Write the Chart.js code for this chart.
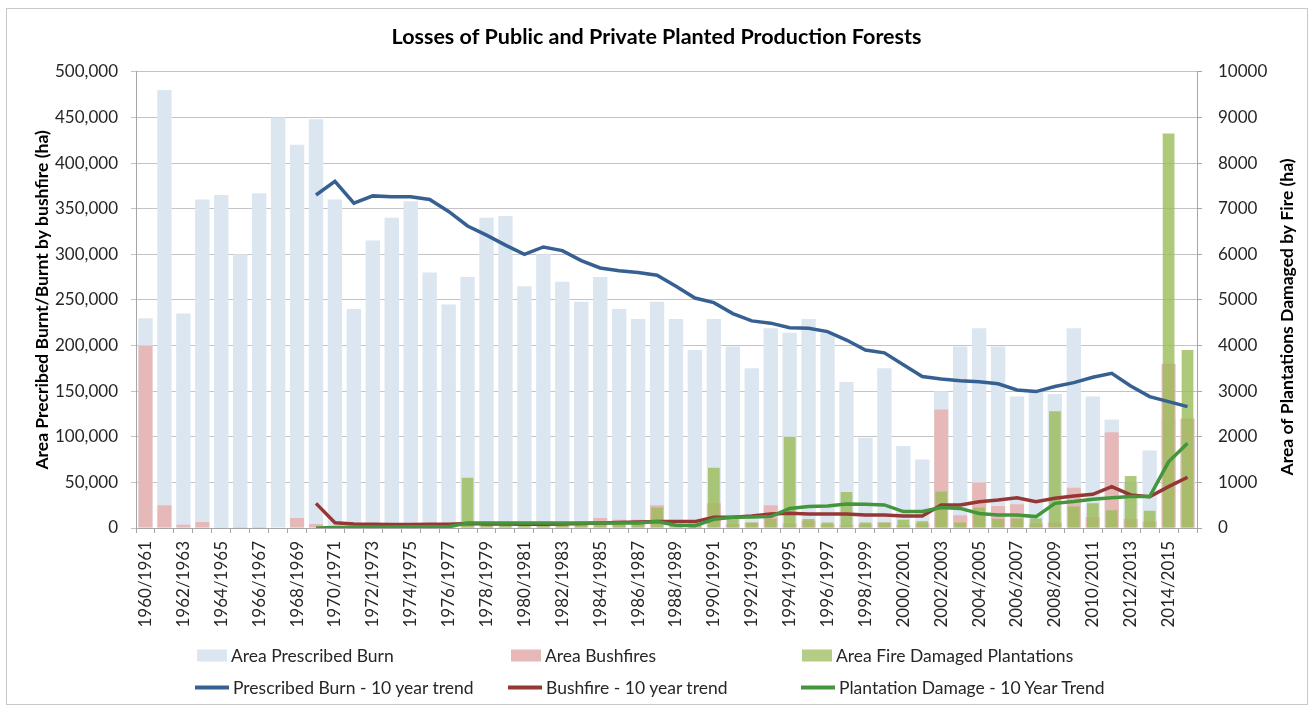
<!DOCTYPE html>
<html>
<head>
<meta charset="utf-8">
<title>Losses of Public and Private Planted Production Forests</title>
<script src="https://cdn.jsdelivr.net/npm/chart.js@4.4.1/dist/chart.umd.min.js"></script>
<style>
  body { margin: 0; background: #fff; font-family: Lato, "Open Sans", sans-serif; }
  #wrap { position: relative; width: 1313px; height: 708px; }
  #frame { position: absolute; left: 6px; top: 8px; right: 5px; bottom: 3px; border: 1px solid #c8c8c8; pointer-events: none; }
  .leg { position: absolute; display: flex; align-items: center; font-size: 17.5px; color: #262626; white-space: nowrap; transform: translateY(-50%); }
  .sw { display: inline-block; margin-right: 4px; }
  .box { width: 30px; height: 12px; }
  .ln { width: 34px; height: 4px; }
</style>
</head>
<body>
<div id="wrap">
  <canvas id="forestChart"></canvas>
  <div id="frame"></div>
  <div class="leg" style="left:197px;top:655px"><span class="sw box" style="background:#dce6f1"></span>Area Prescribed Burn</div>
  <div class="leg" style="left:511px;top:655px"><span class="sw box" style="background:#e6b9b8"></span>Area Bushfires</div>
  <div class="leg" style="left:802px;top:655px"><span class="sw box" style="background:rgba(155,187,89,0.75)"></span>Area Fire Damaged Plantations</div>
  <div class="leg" style="left:195px;top:687px"><span class="sw ln" style="background:#376092"></span>Prescribed Burn - 10 year trend</div>
  <div class="leg" style="left:508px;top:687px"><span class="sw ln" style="background:#953735"></span>Bushfire - 10 year trend</div>
  <div class="leg" style="left:801px;top:687px"><span class="sw ln" style="background:#43963b"></span>Plantation Damage - 10 Year Trend</div>
</div>
<script>
const seasons = [
  "1960/1961", "1961/1962", "1962/1963", "1963/1964", "1964/1965", "1965/1966", "1966/1967", "1967/1968",
  "1968/1969", "1969/1970", "1970/1971", "1971/1972", "1972/1973", "1973/1974", "1974/1975", "1975/1976",
  "1976/1977", "1977/1978", "1978/1979", "1979/1980", "1980/1981", "1981/1982", "1982/1983", "1983/1984",
  "1984/1985", "1985/1986", "1986/1987", "1987/1988", "1988/1989", "1989/1990", "1990/1991", "1991/1992",
  "1992/1993", "1993/1994", "1994/1995", "1995/1996", "1996/1997", "1997/1998", "1998/1999", "1999/2000",
  "2000/2001", "2001/2002", "2002/2003", "2003/2004", "2004/2005", "2005/2006", "2006/2007", "2007/2008",
  "2008/2009", "2009/2010", "2010/2011", "2011/2012", "2012/2013", "2013/2014", "2014/2015", "2015/2016"
];

// area in ha, left axis
const prescribedBurn = [
  230000, 480000, 235000, 360000, 365000, 300000, 367000, 450000, 420000, 448000,
  360000, 240000, 315000, 340000, 358000, 280000, 245000, 275000, 340000, 342000,
  265000, 300000, 270000, 248000, 275000, 240000, 229000, 248000, 229000, 195000,
  229000, 199000, 175000, 219000, 214000, 229000, 214000, 160000, 99000, 175000,
  90000, 75000, 150000, 199000, 219000, 199000, 144000, 150000, 147000, 219000,
  144000, 119000, 50000, 85000, 120000, 100000
];

const bushfires = [
  200000, 25000, 3500, 6500, 800, 1000, 1000, 500, 11000, 4500,
  2000, 1500, 1500, 1200, 1500, 2000, 1500, 3000, 2000, 1500,
  1500, 2000, 2500, 3000, 11000, 9000, 9000, 25000, 4000, 3000,
  27000, 4000, 6000, 25000, 5000, 8000, 4000, 3000, 4000, 6000,
  3000, 5000, 130000, 14000, 50000, 24000, 26000, 5000, 6000, 44000,
  12000, 105000, 10000, 7000, 180000, 120000
];

// area in ha, right axis
const plantationDamage = [
  0, 0, 0, 0, 0, 0, 0, 0, 0, 0,
  30, 30, 40, 40, 50, 40, 50, 1100, 100, 80,
  80, 100, 80, 80, 100, 80, 100, 450, 80, 100,
  1320, 200, 120, 200, 2000, 200, 120, 790, 120, 120,
  180, 150, 800, 120, 450, 200, 210, 210, 2560, 470,
  540, 390, 1140, 380, 8650, 3900
];

const prescribedTrend = [
  null, null, null, null, null, null, null, null, null, 365000,
  380000, 356000, 364000, 363000, 363000, 360000, 347000, 331000, 321000, 310000,
  300000, 308000, 304000, 293000, 285000, 282000, 280000, 277000, 265000, 252000,
  247000, 235000, 227000, 224500, 219600, 219000, 215300, 206000, 195000, 192000,
  179000, 166000, 163400, 161500, 160400, 158000, 151300, 149500, 155000, 159300,
  165200, 169600, 155700, 144000, 138500, 133000
];

const bushfireTrend = [
  null, null, null, null, null, null, null, null, null, 27000,
  5800, 4500, 4000, 3800, 3800, 4000, 4200, 4800, 4500, 4300,
  4000, 4000, 4300, 4800, 5500, 6000, 6500, 7000, 7200, 7000,
  11700, 11700, 13200, 15400, 16100, 15400, 15400, 15400, 14300, 14300,
  13200, 13200, 25200, 25200, 28800, 30700, 33200, 28800, 32500, 35100,
  36900, 45300, 36200, 34300, 45300, 55600
];

const plantationTrend = [
  null, null, null, null, null, null, null, null, null, 0,
  10, 15, 20, 20, 25, 25, 30, 110, 110, 110,
  110, 110, 110, 110, 110, 110, 110, 140, 60, 50,
  190, 235, 240, 250, 430, 470, 480, 525, 520, 505,
  360, 360, 450, 430, 320, 285, 285, 250, 540, 580,
  630, 665, 690, 690, 1450, 1860
];

const leftTicks = { min: 0, max: 500000, step: 50000 };
const rightTicks = { min: 0, max: 10000, step: 1000 };

const fontFamily = "Lato, 'Open Sans', sans-serif";
const axisLine = '#a6a6a6';

// rotated axis titles, both reading bottom to top
const axisTitles = {
  id: 'axisTitles',
  afterDraw(chart) {
    const ctx = chart.ctx;
    const mid = (chart.chartArea.top + chart.chartArea.bottom) / 2;
    const draw = (text, x, y) => {
      ctx.save();
      ctx.font = "bold 17.5px " + fontFamily;
      ctx.fillStyle = '#000';
      ctx.textAlign = 'center';
      ctx.textBaseline = 'middle';
      ctx.translate(x, y);
      ctx.rotate(-Math.PI / 2);
      ctx.fillText(text, 0, 0);
      ctx.restore();
    };
    draw('Area Precribed Burnt/Burnt by bushfire (ha)', 42, mid);
    draw('Area of Plantations Damaged by Fire (ha)', 1287, mid + 17);
  }
};

const barData = {
  labels: seasons,
  datasets: [
    {
      type: 'line',
      label: 'Plantation Damage - 10 Year Trend',
      data: plantationTrend,
      yAxisID: 'y1',
      borderColor: '#43963b',
      borderWidth: 3.5,
      pointRadius: 0,
      order: 0
    },
    {
      type: 'line',
      label: 'Bushfire - 10 year trend',
      data: bushfireTrend,
      yAxisID: 'y',
      borderColor: '#953735',
      borderWidth: 3.5,
      pointRadius: 0,
      order: 1
    },
    {
      type: 'line',
      label: 'Prescribed Burn - 10 year trend',
      data: prescribedTrend,
      yAxisID: 'y',
      borderColor: '#376092',
      borderWidth: 3.5,
      pointRadius: 0,
      order: 2
    },
    {
      type: 'bar',
      label: 'Area Fire Damaged Plantations',
      data: plantationDamage,
      yAxisID: 'y1',
      backgroundColor: 'rgba(155,187,89,0.8)',
      grouped: false,
      categoryPercentage: 1,
      barPercentage: 0.62,
      order: 3
    },
    {
      type: 'bar',
      label: 'Area Bushfires',
      data: bushfires,
      yAxisID: 'y',
      backgroundColor: '#e6b9b8',
      grouped: false,
      categoryPercentage: 1,
      barPercentage: 0.74,
      order: 4
    },
    {
      type: 'bar',
      label: 'Area Prescribed Burn',
      data: prescribedBurn,
      yAxisID: 'y',
      backgroundColor: '#dce6f1',
      grouped: false,
      categoryPercentage: 1,
      barPercentage: 0.76,
      order: 5
    }
  ]
};

const barConfig = {
  type: 'bar',
  data: barData,
  plugins: [axisTitles],
  options: {
    responsive: true,
    maintainAspectRatio: false,
    animation: false,
    layout: { padding: 0 },
    plugins: {
      legend: { display: false },
      tooltip: { enabled: false },
      title: {
        display: true,
        text: 'Losses of Public and Private Planted Production Forests',
        color: '#000',
        font: { family: fontFamily, size: 21.5, weight: 'bold' },
        padding: { top: 24, bottom: 22 }
      }
    },
    scales: {
      x: {
        offset: true,
        grid: { drawOnChartArea: false, tickLength: 5, color: axisLine },
        border: { color: axisLine },
        ticks: {
          autoSkip: false,
          minRotation: 90,
          maxRotation: 90,
          padding: 8,
          color: '#262626',
          font: { family: fontFamily, size: 17 },
          callback: function (value, index) {
            return index % 2 === 0 ? this.getLabelForValue(value) : '';
          }
        },
        afterFit: (scale) => { scale.height = 180; }
      },
      y: {
        position: 'left',
        min: leftTicks.min,
        max: leftTicks.max,
        grid: { color: '#c4c4c4', tickLength: 5 },
        border: { color: axisLine },
        ticks: {
          stepSize: leftTicks.step,
          padding: 13,
          color: '#262626',
          font: { family: fontFamily, size: 17 },
          callback: (v) => v.toLocaleString('en-US')
        },
        afterFit: (scale) => { scale.width = 136; }
      },
      y1: {
        position: 'right',
        min: rightTicks.min,
        max: rightTicks.max,
        grid: { drawOnChartArea: false, tickLength: 5, color: axisLine },
        border: { color: axisLine },
        ticks: {
          stepSize: rightTicks.step,
          padding: 16,
          color: '#262626',
          font: { family: fontFamily, size: 17 },
          callback: (v) => String(v)
        },
        afterFit: (scale) => { scale.width = 116; }
      }
    }
  }
};

const forestChart = new Chart(
  document.getElementById('forestChart'),
  barConfig
);
</script>
</body>
</html>
